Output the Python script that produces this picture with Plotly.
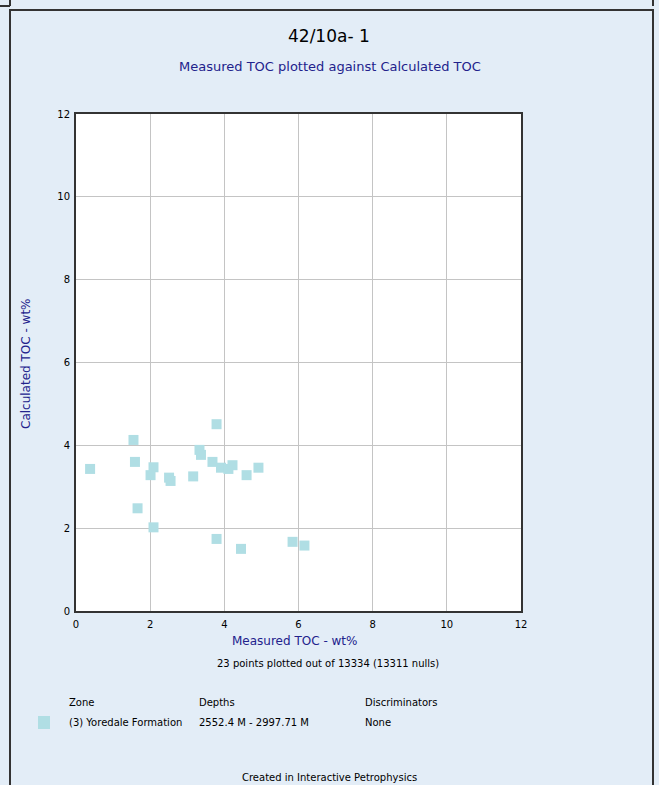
import plotly.graph_objects as go

# Data
measured_toc = [0.38, 1.55, 1.59, 2.09, 2.01, 1.66, 2.09, 2.51, 2.55, 3.16, 3.33, 3.37,
                3.79, 3.68, 3.91, 4.11, 4.22, 4.60, 4.92, 3.79, 4.45, 5.84, 6.16]
calculated_toc = [3.43, 4.13, 3.60, 3.47, 3.28, 2.48, 2.02, 3.22, 3.14, 3.25, 3.89, 3.77,
                  4.51, 3.60, 3.46, 3.43, 3.52, 3.28, 3.46, 1.74, 1.50, 1.67, 1.58]
tick_vals = [0, 2, 4, 6, 8, 10, 12]

W, H = 659, 785
L, R, T, B = 76, 521, 114, 611  # plot area in pixels

def px(x):
    return (x - L) / (R - L)

def py(y):
    return (B - y) / (B - T)

BG = "#E3EDF7"
NAVY = "#22228C"
MARK = "#B0DEE4"
FONT = "DejaVu Sans"

fig = go.Figure()
fig.add_trace(go.Scatter(
    x=measured_toc, y=calculated_toc, mode="markers",
    marker=dict(symbol="square", size=10, color=MARK, line=dict(width=0)),
    showlegend=False, hoverinfo="x+y",
))

axis_common = dict(
    range=[0, 12], tickvals=tick_vals, showgrid=True, gridcolor="#C4C4C4", gridwidth=1,
    zeroline=False, showline=True, linecolor="#333333", linewidth=2, mirror=True,
    ticks="", tickfont=dict(family=FONT, size=10, color="#000000"),
)

fig.update_layout(
    width=W, height=H, autosize=False,
    margin=dict(l=L, r=W - R, t=T, b=H - B, pad=0),
    paper_bgcolor=BG, plot_bgcolor="#FFFFFF",
    xaxis=dict(**axis_common, ticklabelstandoff=3),
    yaxis=dict(**axis_common, ticklabelstandoff=2),
    font=dict(family=FONT),
)

annotations = [
    dict(text="42/10a- 1", x=px(329), y=py(36), font=dict(size=17, color="#000000")),
    dict(text="Measured TOC plotted against Calculated TOC", x=px(330), y=py(66),
         font=dict(size=13, color=NAVY)),
    dict(text="Measured TOC - wt%", x=px(294), y=py(641), font=dict(size=12, color=NAVY)),
    dict(text="23 points plotted out of 13334 (13311 nulls)", x=px(328), y=py(663),
         font=dict(size=10, color="#000000")),
    dict(text="Calculated TOC - wt%", x=px(26), y=py(364), textangle=-90,
         font=dict(size=12, color=NAVY)),
    dict(text="Zone", x=px(67), y=py(703), xanchor="left", font=dict(size=10, color="#000000")),
    dict(text="Depths", x=px(197), y=py(703), xanchor="left", font=dict(size=10, color="#000000")),
    dict(text="Discriminators", x=px(363), y=py(703), xanchor="left",
         font=dict(size=10, color="#000000")),
    dict(text="(3) Yoredale Formation", x=px(67), y=py(722), xanchor="left",
         font=dict(size=10, color="#000000")),
    dict(text="2552.4 M - 2997.71 M", x=px(197), y=py(722), xanchor="left",
         font=dict(size=10, color="#000000")),
    dict(text="None", x=px(363), y=py(722), xanchor="left", font=dict(size=10, color="#000000")),
    dict(text="Created in Interactive Petrophysics", x=px(329), y=py(777),
         font=dict(size=10, color="#000000")),
]
for a in annotations:
    a.setdefault("xanchor", "center")
    a.update(xref="paper", yref="paper", showarrow=False, yanchor="middle")
    a["font"]["family"] = FONT
fig.update_layout(annotations=annotations)

shapes = [
    # outer frame
    dict(type="rect", x0=px(10), x1=px(653), y0=py(10), y1=py(800),
         line=dict(color="#333333", width=2), fillcolor="rgba(0,0,0,0)", layer="below"),
    # residue of panel above
    dict(type="line", x0=px(0), x1=px(10), y0=py(6), y1=py(6), line=dict(color="#333333", width=2)),
    dict(type="line", x0=px(10), x1=px(10), y0=py(0), y1=py(6), line=dict(color="#333333", width=2)),
    dict(type="line", x0=px(653), x1=px(653), y0=py(0), y1=py(6), line=dict(color="#333333", width=2)),
    # legend swatch
    dict(type="rect", x0=px(38), x1=px(50), y0=py(716), y1=py(729),
         line=dict(width=0), fillcolor=MARK),
]
for s in shapes:
    s.update(xref="paper", yref="paper")
fig.update_layout(shapes=shapes)

fig.write_html("out.html")
